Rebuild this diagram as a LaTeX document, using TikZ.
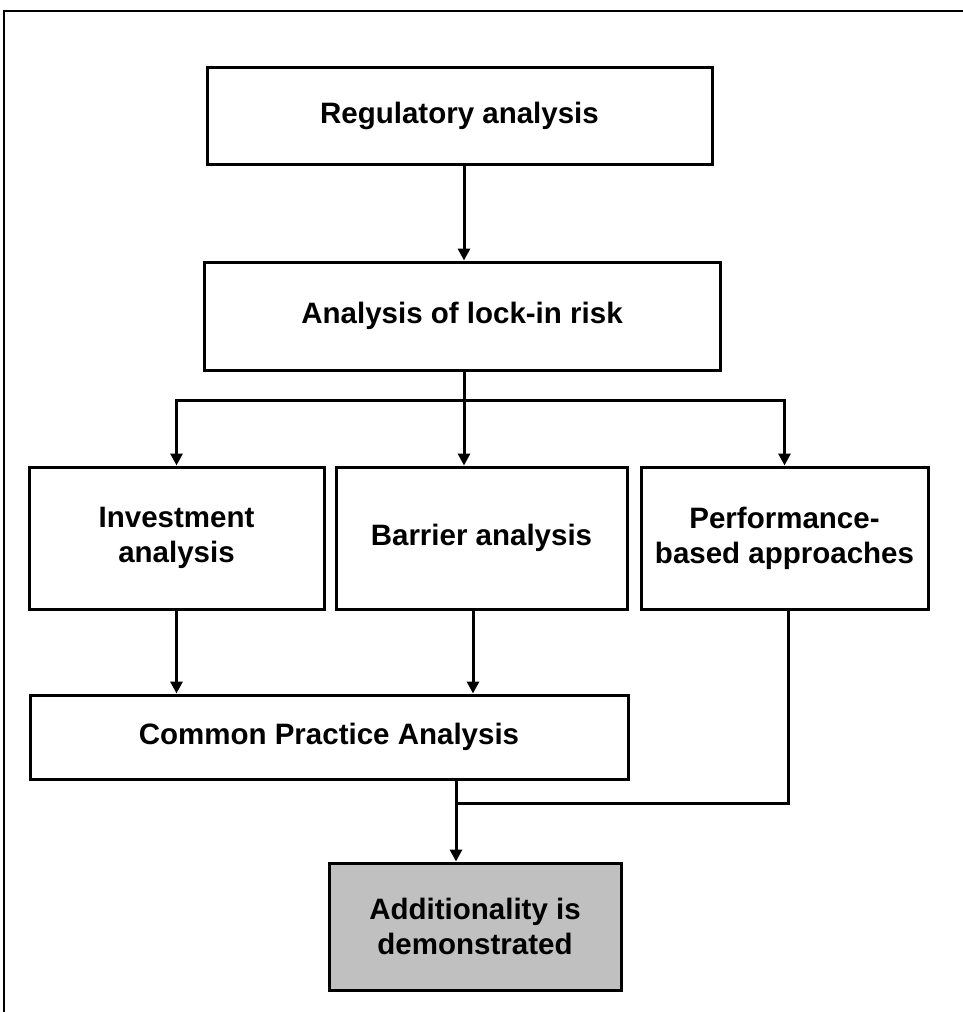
\documentclass[tikz,border=0pt]{standalone}
\usepackage{fontspec}
\setmainfont{Liberation Sans}
\usepackage{xcolor}
\usepackage{tikz}
\usetikzlibrary{positioning,shapes,arrows.meta}

\definecolor{boxgray}{RGB}{192,192,192}

\begin{document}
\begin{tikzpicture}[x=1pt,y=-1pt,
    box/.style={draw=black,line width=3pt,align=center,inner sep=0pt,
      font=\fontsize{29.5}{35}\selectfont\bfseries},
    line/.style={draw=black,line width=3pt},
    arr/.style={line,-{Triangle[width=12pt,length=12pt]}}]
            \useasboundingbox (0,0) rectangle (963,1012);
            \path[draw=black,line width=1.5pt] (4,1012) -- (4,11) -- (963,11);
            \node[box,minimum width=505pt,minimum height=97pt] (reg) at (459.5,115.5)
                 {Regulatory analysis};
            \node[box,minimum width=516pt,minimum height=108pt] (risk) at (462,316)
                 {Analysis of lock-in risk};
            \node[box,minimum width=295pt,minimum height=142pt] (inv) at (176.5,538)
                 {Investment\\analysis};
            \node[box,minimum width=291pt,minimum height=142pt] (bar) at (481.5,538)
                 {Barrier analysis};
            \node[box,minimum width=287pt,minimum height=142pt] (perf) at (784.5,538)
                 {Performance-\\based approaches};
            \node[box,minimum width=598pt,minimum height=84pt] (cpa) at (329,737)
                 {Common Practice Analysis};
            \node[box,fill=boxgray,minimum width=292pt,minimum height=127pt] (add) at (475,926.5)
                 {Additionality is\\demonstrated};
            \coordinate (split) at (464,400);
            \coordinate (barx) at (473,0);
            \coordinate (perfx) at (788,0);
            \coordinate (join) at (456,803);
            \path[arr] (reg.south -| split) -- (risk.north -| split);
            \path[line] (risk.south -| split) -- (split);
            \path[arr] (split) -- (bar.north -| split);
            \path[arr] (split) -| (inv.north);
            \path[arr] (split) -| (perf.north);
            \path[arr] (inv.south) -- (cpa.north -| inv.south);
            \path[arr] (bar.south -| barx) -- (cpa.north -| barx);
            \path[arr] (cpa.south -| join) -- (add.north -| join);
            \path[line] (perf.south -| perfx) |- (join);
          \end{tikzpicture}
\end{document}
